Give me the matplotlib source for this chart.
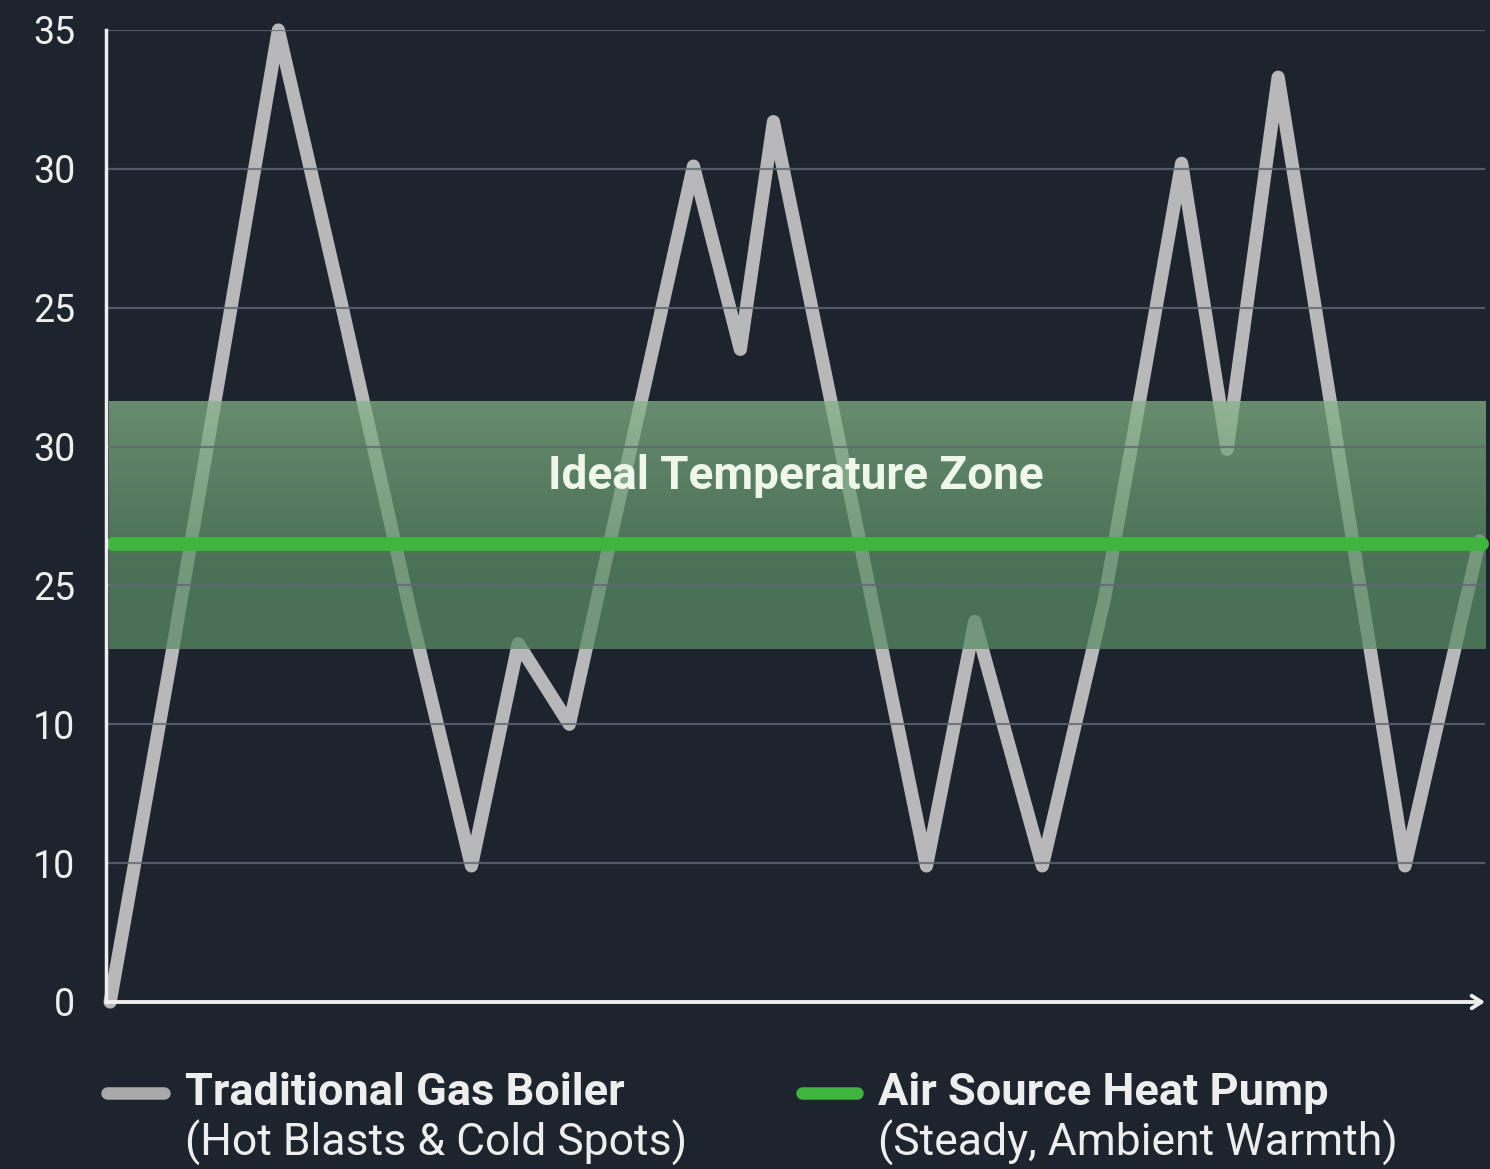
import matplotlib
matplotlib.use("Agg")
import matplotlib.pyplot as plt
import numpy as np
from matplotlib.lines import Line2D

# ---- data ----
time_x = [0.3, 4.8, 12.5, 17.0, 22.0, 26.5, 29.9, 33.6, 42.6, 46.0, 48.4,
          59.5, 63.0, 67.9, 72.4, 78.0, 81.3, 85.0, 94.2, 99.6]
boiler_temp = [0.0, 12.6, 35.0, 25.3, 14.2, 4.9, 12.9, 10.0, 30.1, 23.5, 31.7,
               4.9, 13.7, 4.9, 14.5, 30.2, 19.9, 33.3, 4.9, 16.6]
pump_x = [0.5, 99.8]
pump_temp = [16.5, 16.5]
zone_low, zone_high = 12.7, 21.6
ytick_vals = [0, 5, 10, 15, 20, 25, 30, 35]
ytick_labels = ["0", "10", "10", "25", "30", "25", "30", "35"]
zone_label = "Ideal Temperature Zone"
legend_titles = ["Traditional Gas Boiler", "Air Source Heat Pump"]
legend_subs = ["(Hot Blasts & Cold Spots)", "(Steady, Ambient Warmth)"]

BG = "#1d242e"
GRAY = "#b8b8ba"
GREEN = "#3fb43f"
WHITE = "#eeeeee"

plt.rcParams['font.family'] = ['Roboto', 'DejaVu Sans']

fig = plt.figure(figsize=(14.9, 11.69), dpi=100, facecolor=BG)
ax = fig.add_axes([106/1490, 1 - 1002/1169, (1485-106)/1490, (1002-30)/1169])
ax.set_facecolor(BG)
ax.set_xlim(0, 100)
ax.set_ylim(0, 35)

# gridlines
for v in ytick_vals[1:]:
    ax.axhline(v, color="#5f6872", lw=1.6, alpha=0.8, zorder=4)

# boiler line
ax.plot(time_x, boiler_temp, color=GRAY, lw=9.5, solid_joinstyle='round',
        solid_capstyle='round', zorder=2, clip_on=False)

# ideal zone band with vertical gradient
n = 256
t = np.linspace(0, 1, n)[:, None]  # 0 bottom -> 1 top
top_c = np.array([0.52, 0.70, 0.53])
bot_c = np.array([0.36, 0.55, 0.40])
w = np.clip((t - 0.3) / 0.7, 0, 1) ** 1.2
rgb = bot_c * (1 - w) + top_c * w
alpha = 0.74 + 0.0 * t
img = np.concatenate([np.repeat(rgb[:, None, :], 2, axis=1),
                      np.repeat(alpha[:, None, :], 2, axis=1)], axis=2)
ax.imshow(img, extent=[0.2, 100, zone_low, zone_high], origin='lower',
          aspect='auto', zorder=3, interpolation='bilinear')

# heat pump line
ax.plot(pump_x, pump_temp, color=GREEN, lw=10, solid_capstyle='round',
        zorder=5, clip_on=False)

ax.text(50.0, 18.94, zone_label, color="#eef7ea", fontsize=33, fontweight='bold',
        ha='center', va='center', zorder=6)

# axes
for s in ['top', 'right', 'bottom']:
    ax.spines[s].set_visible(False)
ax.spines['left'].set_color(WHITE)
ax.spines['left'].set_linewidth(2.5)
ax.spines['left'].set_zorder(7)
ax.annotate('', xy=(1.0, 0), xytext=(0, 0), xycoords='axes fraction',
            arrowprops=dict(arrowstyle='->,head_length=0.7,head_width=0.45',
                            color=WHITE, lw=2.8, shrinkA=0, shrinkB=0),
            zorder=7, annotation_clip=False)

ax.set_xticks([])
ax.set_yticks(ytick_vals)
ax.set_yticklabels(ytick_labels)
ax.tick_params(axis='y', length=0, pad=22, labelsize=27, labelcolor=WHITE)

# legend (custom)
leg_y = 1 - 1093/1169
sub_y = 1 - 1143/1169
fig.add_artist(Line2D([107/1490, 164/1490], [leg_y, leg_y], color="#a9a9ab",
                      lw=9, solid_capstyle='round'))
fig.add_artist(Line2D([802/1490, 857/1490], [leg_y, leg_y], color=GREEN,
                      lw=9, solid_capstyle='round'))
fig.text(185/1490, leg_y, legend_titles[0], color=WHITE, fontsize=32.5,
         fontweight='bold', va='center', ha='left')
fig.text(185/1490, sub_y, legend_subs[0], color=WHITE, fontsize=32,
         va='center', ha='left')
fig.text(878/1490, leg_y, legend_titles[1], color=WHITE, fontsize=32.5,
         fontweight='bold', va='center', ha='left')
fig.text(878/1490, sub_y, legend_subs[1], color=WHITE, fontsize=32,
         va='center', ha='left')

fig.savefig("out.png", dpi=100, facecolor=BG)
